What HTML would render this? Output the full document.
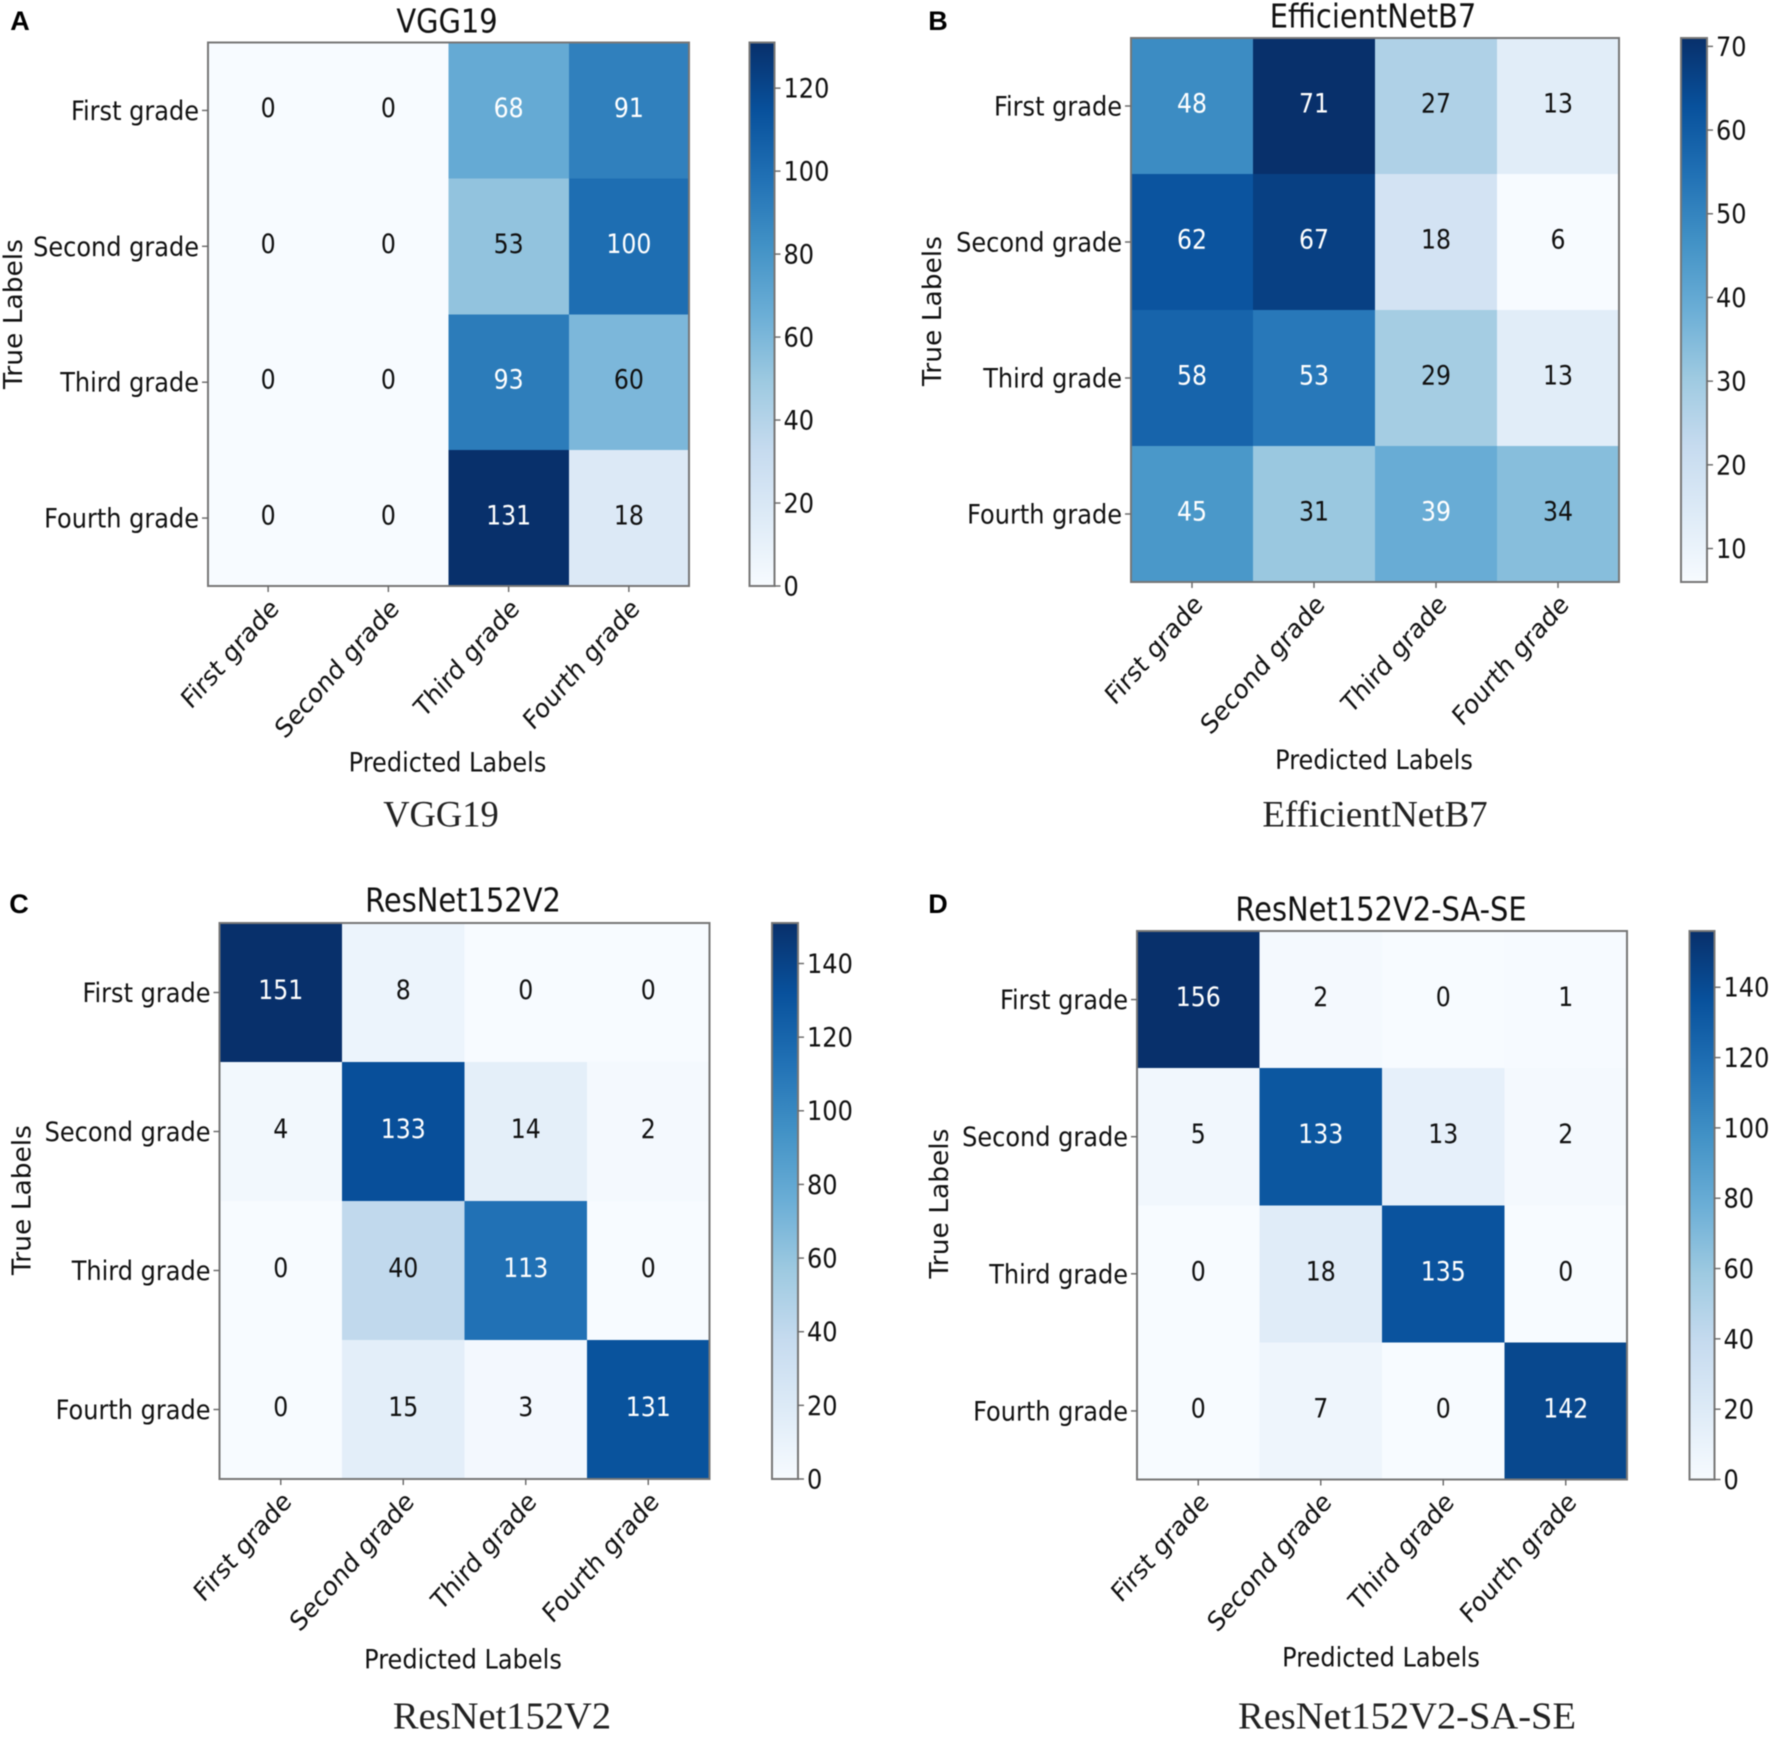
<!DOCTYPE html>
<html lang="en">
<head>
<meta charset="utf-8">
<title>Confusion matrices</title>
<style>
html,body{margin:0;padding:0;background:#fff;}
svg{display:block;filter:blur(0.55px);}
text{font-family:"DejaVu Sans",sans-serif;fill:#111;}
</style>
</head>
<body>
<svg id="figure" xmlns="http://www.w3.org/2000/svg" width="1772" height="1741" viewBox="0 0 1772 1741">
<defs>
<linearGradient id="blues-gradient" x1="0" y1="1" x2="0" y2="0"></linearGradient>
</defs>
<rect x="0" y="0" width="1772" height="1741" fill="#fff"></rect>
</svg>
<script>
// ---- data ----
const categories = ["First grade", "Second grade", "Third grade", "Fourth grade"];
const modelNames = ["VGG19", "EfficientNetB7", "ResNet152V2", "ResNet152V2-SA-SE"];
const panelLetters = ["A", "B", "C", "D"];

const valuesVgg19 = [
  [0, 0, 68, 91],
  [0, 0, 53, 100],
  [0, 0, 93, 60],
  [0, 0, 131, 18]
];
const valuesEfficientNet = [
  [48, 71, 27, 13],
  [62, 67, 18, 6],
  [58, 53, 29, 13],
  [45, 31, 39, 34]
];
const valuesResNet = [
  [151, 8, 0, 0],
  [4, 133, 14, 2],
  [0, 40, 113, 0],
  [0, 15, 3, 131]
];
const valuesResNetSaSe = [
  [156, 2, 0, 1],
  [5, 133, 13, 2],
  [0, 18, 135, 0],
  [0, 7, 0, 142]
];

const ticksVgg19 = [0, 20, 40, 60, 80, 100, 120];
const ticksEfficientNet = [10, 20, 30, 40, 50, 60, 70];
const ticksResNet = [0, 20, 40, 60, 80, 100, 120, 140];
const ticksResNetSaSe = [0, 20, 40, 60, 80, 100, 120, 140];

const bluesStops = ["#f7fbff", "#deebf7", "#c6dbef", "#9ecae1", "#6baed6", "#4292c6", "#2171b5", "#08519c", "#08306b"];

// ---- layout (page geometry only, no chart values) ----
const layouts = [
  {l:208, t:42.5, r:689, b:586, barL:749.5, barR:774.5,
   title:[447,22], ylabel:[14,314], xlabel:[447.5,763], caption:[441,814], captionSize:36.5, letter:[20,21]},
  {l:1131, t:38, r:1619, b:582, barL:1681, barR:1707,
   title:[1373,17], ylabel:[933,311], xlabel:[1374,760.5], caption:[1375,815], captionSize:37, letter:[938,21]},
  {l:219.5, t:923, r:709.5, b:1479, barL:772, barR:798,
   title:[463,901], ylabel:[22.6,1200], xlabel:[463,1660], caption:[502,1716.5], captionSize:38.5, letter:[19,904]},
  {l:1137, t:931, r:1627, b:1479.5, barL:1689.5, barR:1714.5,
   title:[1381,910], ylabel:[940,1203.5], xlabel:[1381,1658], caption:[1407,1716.5], captionSize:38.5, letter:[938,904]}
];
const panelValues = [valuesVgg19, valuesEfficientNet, valuesResNet, valuesResNetSaSe];
const panelTicks = [ticksVgg19, ticksEfficientNet, ticksResNet, ticksResNetSaSe];

// ---- helpers ----
const SVGNS = "http://www.w3.org/2000/svg";
const figure = document.getElementById("figure");
const SQUISH = 0.89; // the source plots are horizontally compressed

function mk(tag, attrs, parent) {
  const n = document.createElementNS(SVGNS, tag);
  for (const k in attrs) n.setAttribute(k, attrs[k]);
  parent.appendChild(n);
  return n;
}
function placed(x, y, rotate) {
  return "translate(" + x + "," + y + ") scale(" + SQUISH + ",1)" + (rotate ? " rotate(" + rotate + ")" : "");
}
function hexToRgb(h) {
  return [parseInt(h.slice(1, 3), 16), parseInt(h.slice(3, 5), 16), parseInt(h.slice(5, 7), 16)];
}
function blues(t) {
  const c = Math.max(0, Math.min(1, t)) * (bluesStops.length - 1);
  const i = Math.min(Math.floor(c), bluesStops.length - 2);
  const f = c - i;
  const a = hexToRgb(bluesStops[i]);
  const b = hexToRgb(bluesStops[i + 1]);
  return "rgb(" + a.map((v, k) => Math.round(v + (b[k] - v) * f)).join(",") + ")";
}

const gradient = document.getElementById("blues-gradient");
bluesStops.forEach((c, i) => {
  mk("stop", {offset: i / (bluesStops.length - 1), "stop-color": c}, gradient);
});

const SPINE = "#777";
const TICK = "#666";

function drawPanel(p) {
  const box = layouts[p];
  const values = panelValues[p];
  const ticks = panelTicks[p];
  const flat = values.flat();
  const vMin = Math.min(...flat);
  const vMax = Math.max(...flat);
  const nRows = values.length;
  const nCols = values[0].length;

  // axis functions
  const colEdge = c => box.l + (box.r - box.l) * c / nCols;
  const rowEdge = r => box.t + (box.b - box.t) * r / nRows;
  const colCenter = c => colEdge(c + 0.5);
  const rowCenter = r => rowEdge(r + 0.5);
  const norm = v => (v - vMin) / (vMax - vMin);
  const barY = v => box.b - (box.b - box.t) * norm(v);

  const g = mk("g", {}, figure);
  
  

  const letter = mk("text", {x: box.letter[0], y: box.letter[1], "text-anchor": "middle", "dominant-baseline": "central",
    style: 'font-family:"Liberation Sans",sans-serif;font-weight:700;font-size:27px;fill:#000'}, g);
  letter.textContent = panelLetters[p];
  
  

  const title = mk("text", {"text-anchor": "middle", "dominant-baseline": "central", "font-size": 32.5,
    transform: placed(box.title[0], box.title[1])}, g);
  title.textContent = modelNames[p];
  
  

  // heatmap cells
  for (let r = 0; r < nRows; r++) {
    for (let c = 0; c < nCols; c++) {
      const v = values[r][c];
      const cell = mk("rect", {x: colEdge(c), y: rowEdge(r), width: colEdge(c + 1) - colEdge(c), height: rowEdge(r + 1) - rowEdge(r),
        fill: blues(norm(v)), "shape-rendering": "crispEdges"}, g);
      
      
    }
  }
  // cell value text
  for (let r = 0; r < nRows; r++) {
    for (let c = 0; c < nCols; c++) {
      const v = values[r][c];
      const label = mk("text", {"text-anchor": "middle", "dominant-baseline": "central", "font-size": 26.5,
        transform: placed(colCenter(c), rowCenter(r) - 2.5),
        style: "fill:" + (v > vMax / 2 ? "#fff" : "#111")}, g);
      label.textContent = String(v);
      
      
    }
  }

  const frame = mk("rect", {x: box.l, y: box.t, width: box.r - box.l, height: box.b - box.t, fill: "none", stroke: SPINE, "stroke-width": 2}, g);
  
  

  // y axis
  categories.forEach((name, r) => {
    const tick = mk("line", {x1: box.l - 6, x2: box.l, y1: rowCenter(r), y2: rowCenter(r), stroke: TICK, "stroke-width": 1.4}, g);
    
    
    const t = mk("text", {"text-anchor": "end", "dominant-baseline": "central", "font-size": 27,
      transform: placed(box.l - 9, rowCenter(r) + 1)}, g);
    t.textContent = name;
    
    
  });

  // x axis
  categories.forEach((name, c) => {
    const tick = mk("line", {x1: colCenter(c), x2: colCenter(c), y1: box.b, y2: box.b + 6, stroke: TICK, "stroke-width": 1.4}, g);
    
    
    const t = mk("text", {"text-anchor": "end", "font-size": 26.6,
      transform: placed(colCenter(c) + 12, box.b + 24, -45)}, g);
    t.textContent = name;
    
    
  });

  const yTitle = mk("text", {"text-anchor": "middle", "dominant-baseline": "central", "font-size": 26.5,
    transform: "translate(" + box.ylabel[0] + "," + box.ylabel[1] + ") scale(0.97,1) rotate(-90)"}, g);
  yTitle.textContent = "True Labels";
  
  

  const xTitle = mk("text", {"text-anchor": "middle", "dominant-baseline": "central", "font-size": 27,
    transform: placed(box.xlabel[0], box.xlabel[1])}, g);
  xTitle.textContent = "Predicted Labels";
  
  

  const caption = mk("text", {x: box.caption[0], y: box.caption[1], "text-anchor": "middle", "dominant-baseline": "central",
    style: 'font-family:"Liberation Serif",serif;font-size:' + box.captionSize + 'px;fill:#222'}, g);
  caption.textContent = modelNames[p];
  
  

  // colour bar
  const bar = mk("rect", {x: box.barL, y: box.t, width: box.barR - box.barL, height: box.b - box.t, fill: "url(#blues-gradient)", stroke: SPINE, "stroke-width": 2}, g);
  
  

  ticks.forEach(v => {
    const tick = mk("line", {x1: box.barR, x2: box.barR + 6, y1: barY(v), y2: barY(v), stroke: TICK, "stroke-width": 1.4}, g);
    
    
    const t = mk("text", {"dominant-baseline": "central", "font-size": 27,
      transform: placed(box.barR + 9, barY(v) + 1)}, g);
    t.textContent = String(v);
    
    
  });
}

panelValues.forEach((_, p) => drawPanel(p));
</script>
</body>
</html>
